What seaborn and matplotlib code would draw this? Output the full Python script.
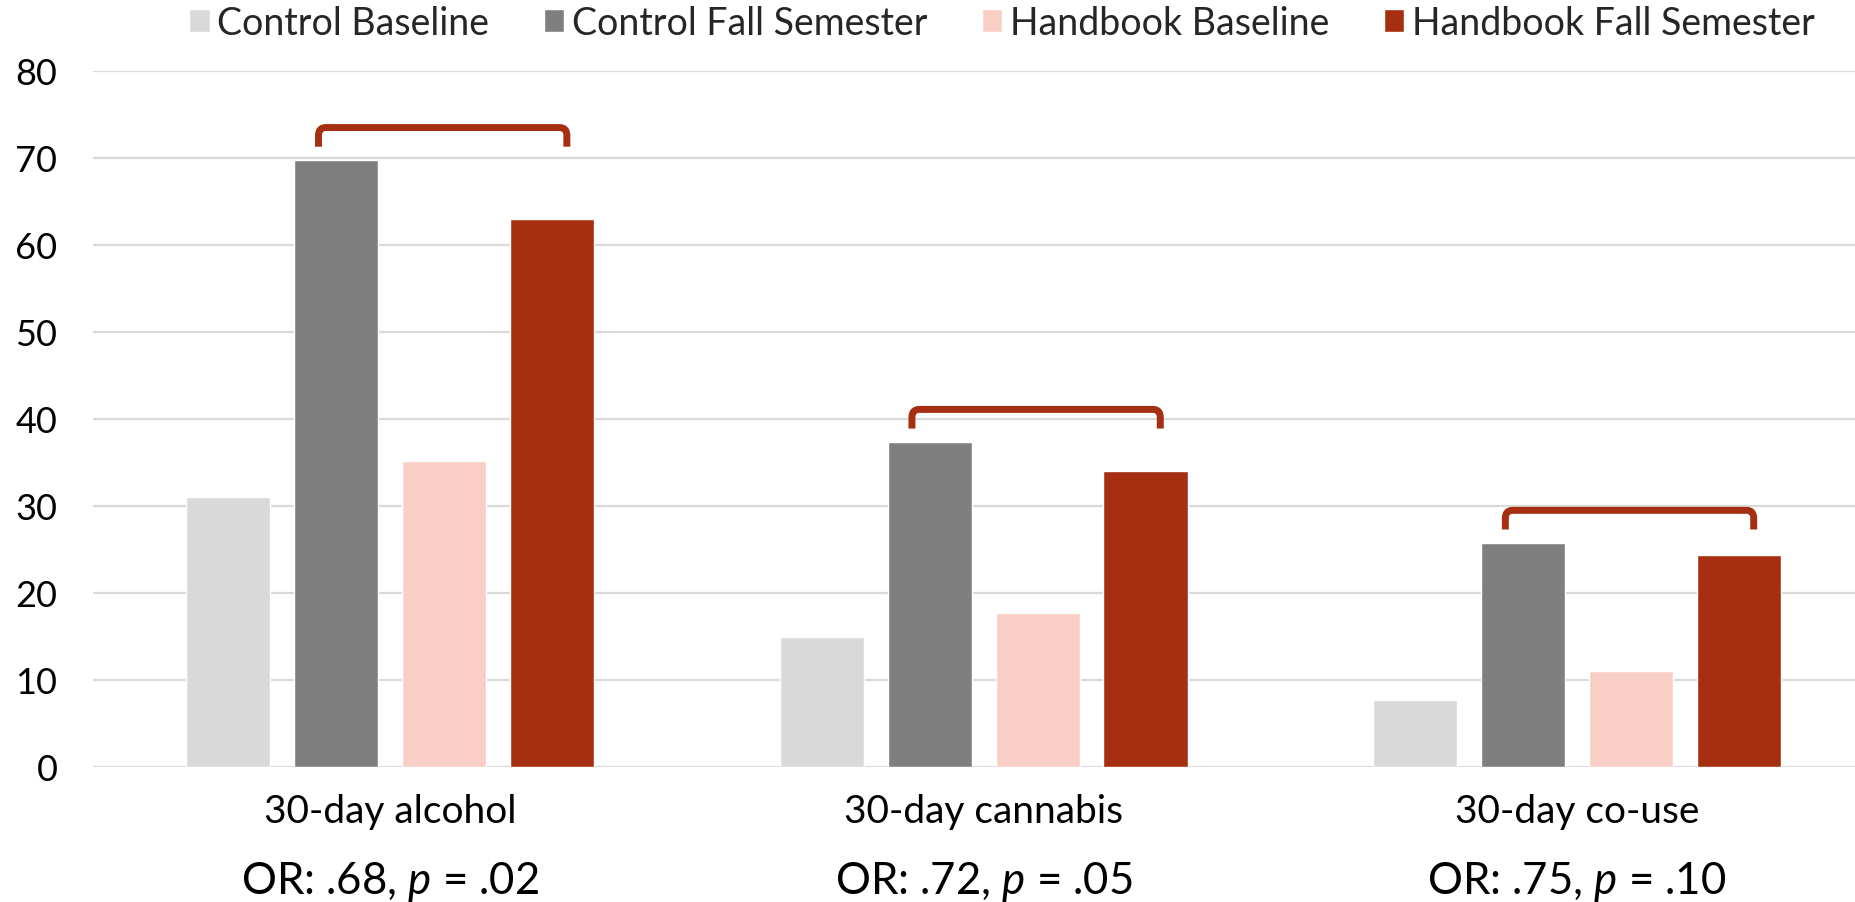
import numpy as np
import pandas as pd
import matplotlib
matplotlib.use("Agg")
import matplotlib.pyplot as plt
import matplotlib.transforms as mtransforms
from matplotlib.path import Path
from matplotlib.patches import PathPatch
import seaborn as sns

# data
categories = ["30-day alcohol", "30-day cannabis", "30-day co-use"]
odds_labels = ["OR: .68, $\\mathit{p}$ = .02", "OR: .72, $\\mathit{p}$ = .05", "OR: .75, $\\mathit{p}$ = .10"]
groups = ["Control Baseline", "Control Fall Semester", "Handbook Baseline", "Handbook Fall Semester"]
control_baseline = [31.0, 14.9, 7.7]
control_fall = [69.8, 37.4, 25.8]
handbook_baseline = [35.2, 17.7, 11.0]
handbook_fall = [63.0, 34.0, 24.4]
colors = ["#D9D9D9", "#7F7F7F", "#F9CEC4", "#A52F10"]

rows = []
for g, vals in zip(groups, [control_baseline, control_fall, handbook_baseline, handbook_fall]):
    for c, v in zip(categories, vals):
        rows.append({"category": c, "group": g, "pct": v})
df = pd.DataFrame(rows)

sns.set_theme(style="white")
plt.rcParams['font.family'] = ['Lato', 'DejaVu Sans']
plt.rcParams['mathtext.fontset'] = 'custom'
plt.rcParams['mathtext.rm'] = 'Lato'
plt.rcParams['mathtext.it'] = 'Lato:italic'

W, H = 1856, 903
fig = plt.figure(figsize=(W / 100, H / 100), dpi=100)
ax = fig.add_axes([93.5 / W, 1 - 768 / H, 1 - 93.5 / W, (768 - 72) / H])

sns.barplot(data=df, x="category", y="pct", hue="group", order=categories,
            hue_order=groups, palette=colors, width=0.727, gap=0.22,
            saturation=1, ax=ax)

handles, labels = ax.get_legend_handles_labels()
ax.get_legend().remove()

ax.set_ylim(0, 80)
ax.set_xlim(-0.5, 2.47)
ax.set_yticks(range(0, 81, 10))
ax.yaxis.grid(True, color="#D9D9D9", linewidth=1.6)
ax.set_axisbelow(True)
for s in ax.spines.values():
    s.set_visible(False)
ax.tick_params(axis="both", length=0, labelsize=26, colors="#000000")
ax.tick_params(axis="y", pad=26)
ax.tick_params(axis="x", labelsize=28, pad=19)
ax.set_xlabel("")
ax.set_ylabel("")

# second line of x labels with odds ratios
trans = mtransforms.blended_transform_factory(ax.transData, fig.transFigure)
for i, t in enumerate(odds_labels):
    ax.text(i, 1 - 882 / H, t, transform=trans, ha="center", va="center",
            fontsize=31.5, color="#000000")

# brackets linking control fall vs handbook fall
bars = [p for p in ax.patches if p.get_height() > 0]
n = len(categories)
cf_bars = sorted(bars[n:2 * n], key=lambda p: p.get_x())
hf_bars = sorted(bars[3 * n:4 * n], key=lambda p: p.get_x())
for i in range(n):
    xl = cf_bars[i].get_x() + cf_bars[i].get_width() / 2 - 0.03
    xr = hf_bars[i].get_x() + hf_bars[i].get_width() / 2 + 0.025
    yb = control_fall[i] + 1.5
    yt = yb + 2.2
    rx, ry = 0.012, 0.9
    verts = [(xl, yb), (xl, yt - ry), (xl, yt), (xl + rx, yt),
             (xr - rx, yt), (xr, yt), (xr, yt - ry), (xr, yb)]
    codes = [Path.MOVETO, Path.LINETO, Path.CURVE3, Path.CURVE3,
             Path.LINETO, Path.CURVE3, Path.CURVE3, Path.LINETO]
    ax.add_patch(PathPatch(Path(verts, codes), fill=False, edgecolor="#A52F10",
                           linewidth=5, capstyle="butt", joinstyle="round",
                           clip_on=False))

fig.legend(handles, labels, loc="center", bbox_to_anchor=(1002 / W, 1 - 24 / H),
           ncol=4, frameon=False, fontsize=27, handlelength=0.55, handleheight=0.55,
           handletextpad=0.2, columnspacing=1.45, borderaxespad=0)

fig.savefig("out.png", dpi=100)
